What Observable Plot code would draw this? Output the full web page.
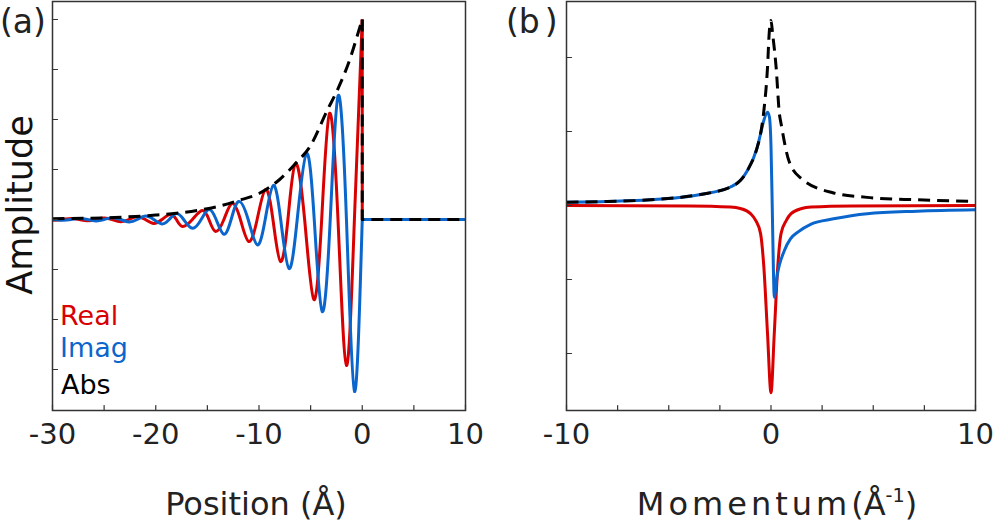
<!DOCTYPE html>
<html><head><meta charset="utf-8">
<script src="https://cdn.jsdelivr.net/npm/d3@7"></script>
<script src="https://cdn.jsdelivr.net/npm/@observablehq/plot@0.6"></script>
<style>
body{margin:0;background:#fff;font-family:"DejaVu Sans",sans-serif;color:#222}
#wrap{position:relative;width:993px;height:522px;overflow:hidden;background:#fff}
.lbl{position:absolute;white-space:nowrap;line-height:1;font-family:"DejaVu Sans",sans-serif}
svg{position:absolute;top:0;overflow:visible}
</style></head><body><div id="wrap"></div>
<script>
// ---------- Panel (a): position space ----------
const posTicks = [-30, -20, -10, 0, 10];
const posMinorTicks = [-30, -25, -20, -15, -10, -5, 0, 5, 10];
const ampTicksA = [1, 0.75, 0.5, 0.25, 0, -0.25, -0.5, -0.75];

const realPosX = [-30, -29.0, -28.2, -27.4, -26.6, -25.8, -25.0, -24.2, -23.4, -22.6, -21.8, -21.0, -20.2, -19.4, -18.6, -18.0, -17.4, -16.45, -15.5, -14.85, -14.2, -13.4, -12.6, -11.8, -10.99, -10.18, -9.37, -8.65, -7.92, -7.2, -6.47, -5.58, -4.69, -3.93, -3.17, -2.35, -1.53, -0.76, 0];
const realPosY = [-0.004, 0, 0.005, 0, -0.006, 0, 0.008, 0, -0.011, 0, 0.014, 0, -0.02, 0, 0.025, 0, -0.035, 0, 0.045, 0, -0.06, 0, 0.08, 0, -0.11, 0, 0.15, 0, -0.21, 0, 0.28, 0, -0.40, 0, 0.53, 0, -0.73, 0, 1.0];

const imagPosX = [-30, -29.0, -28.2, -27.4, -26.6, -25.8, -25.0, -24.2, -23.4, -22.6, -21.8, -21.0, -20.2, -19.4, -18.7, -18.0, -17.3, -16.44, -15.6, -14.86, -14.15, -13.4, -12.7, -11.96, -11.05, -10.17, -9.4, -8.62, -7.9, -7.1, -6.3, -5.4, -4.65, -3.88, -3.1, -2.33, -1.53, -0.75, 0];
const imagPosY = [0, -0.004, 0, 0.005, 0, -0.007, 0, 0.009, 0, -0.012, 0, 0.017, 0, -0.022, 0, 0.03, 0, -0.044, 0, 0.05, 0, -0.074, 0, 0.09, 0, -0.127, 0, 0.17, 0, -0.245, 0, 0.33, 0, -0.46, 0, 0.62, 0, -0.86, 0];

const absPosX = [-30, -27, -24, -22, -20, -18, -16, -14, -12, -10, -8, -6.46, -5, -3.4, -2.43, -1.14, -0.33, 0];
const absPosY = [0.004, 0.006, 0.01, 0.015, 0.022, 0.031, 0.045, 0.065, 0.095, 0.13, 0.2, 0.28, 0.37, 0.545, 0.645, 0.81, 0.945, 1.0];

// values at the edge x = 0 and beyond (step down to zero)
const realStepX = [0, 0, 10];
const realStepY = [1.0, 0, 0];
const imagStepX = [0, 10];
const imagStepY = [0, 0];
const absStepX = [0, 0, 10];
const absStepY = [1.0, 0, 0];

// ---------- Panel (b): momentum space ----------
const momTicks = [-10, 0, 10];
const momMinorTicks = [-10, -7.5, -5, -2.5, 0, 2.5, 5, 7.5, 10];
const ampTicksB = [2, 1, 0, -1, -2];

const realMomX = [-10, -4, -1.98, -1.5, -1.0, -0.75, -0.51, -0.35, -0.17, 0, 0.16, 0.33, 0.49, 0.75, 0.98, 1.5, 1.96, 4, 10];
const realMomY = [0, -0.005, -0.02, -0.04, -0.11, -0.2, -0.38, -0.83, -1.73, -2.53, -1.73, -0.83, -0.38, -0.2, -0.11, -0.04, -0.02, -0.005, 0];

const imagMomX = [-10, -8, -5.9, -3.45, -1.98, -1.49, -1.16, -0.67, -0.51, -0.35, -0.17, -0.08, 0, 0.06, 0.12, 0.16, 0.3, 0.65, 0.95, 1.31, 1.96, 3.06, 4.7, 7.15, 10];
const imagMomY = [0.045, 0.055, 0.077, 0.15, 0.25, 0.34, 0.47, 0.79, 0.97, 1.15, 1.26, 1.2, 0.8, 0, -0.9, -1.24, -0.95, -0.61, -0.45, -0.36, -0.25, -0.18, -0.11, -0.077, -0.058];

const absMomX = [-10, -8, -5.9, -3.45, -1.98, -1.49, -1.16, -0.67, -0.51, -0.35, -0.17, -0.09, 0, 0.08, 0.25, 0.41, 0.49, 0.88, 1.5, 3.06, 4.7, 7.15, 10];
const absMomY = [0.045, 0.055, 0.077, 0.15, 0.25, 0.34, 0.47, 0.79, 0.97, 1.28, 1.87, 2.32, 2.5, 2.32, 1.87, 1.24, 1.11, 0.6, 0.36, 0.17, 0.11, 0.077, 0.054];

// ---------- styles ----------
const RED = "#d80000", BLUE = "#0a66cc", BLACK = "#000";
const FRAME = "#333";
const rows = (xs, ys) => xs.map((x, i) => ({x, y: ys[i]}));
const tickShape = {draw(ctx, l) { ctx.moveTo(0, 0); ctx.lineTo(0, -l); }};
const lineOpts = (stroke, curve, dashed) => ({x: "x", y: "y", stroke, strokeWidth: 3, curve,
  strokeDasharray: dashed ? "12,7" : null, strokeLinecap: "butt"});

function panel({width, marginLeft, marginRight, xDomain, yDomain, series, minorX, yTicks, labelsX}) {
  const marks = [];
  for (const s of series) marks.push(Plot.line(rows(s.x, s.y), lineOpts(s.stroke, s.curve, s.dashed)));
  marks.push(Plot.frame({stroke: FRAME, strokeWidth: 1.5}));
  marks.push(Plot.vector(minorX, {x: d => d, frameAnchor: "bottom", anchor: "start", length: 5, shape: tickShape, stroke: FRAME, strokeWidth: 1.2}));
  marks.push(Plot.vector(yTicks, {y: d => d, frameAnchor: "left", anchor: "start", rotate: 90, length: 5, shape: tickShape, stroke: FRAME, strokeWidth: 1.2}));
  marks.push(Plot.text(labelsX, {x: d => d, frameAnchor: "bottom", dy: 33, text: d => String(d), fontSize: 29, fill: "#222"}));
  return Plot.plot({
    width, height: 522, marginLeft, marginRight, marginTop: 1, marginBottom: 112,
    x: {domain: xDomain, axis: null},
    y: {domain: yDomain, axis: null},
    style: {fontFamily: "DejaVu Sans", color: "#222", background: "transparent", overflow: "visible"},
    marks
  });
}

const wrap = document.getElementById("wrap");

const left = panel({
  width: 470, marginLeft: 52, marginRight: 5,
  xDomain: [-30, 10], yDomain: [-0.955, 1.09],
  minorX: posMinorTicks, yTicks: ampTicksA, labelsX: posTicks,
  series: [
    {x: realPosX, y: realPosY, stroke: RED, curve: "natural"},
    {x: realStepX, y: realStepY, stroke: RED, curve: "linear"},
    {x: imagPosX, y: imagPosY, stroke: BLUE, curve: "natural"},
    {x: imagStepX, y: imagStepY, stroke: BLUE, curve: "linear"},
    {x: absPosX, y: absPosY, stroke: BLACK, curve: "monotone-x", dashed: true},
    {x: absStepX, y: absStepY, stroke: BLACK, curve: "linear", dashed: true}
  ]
});
left.style.left = "0px";
wrap.appendChild(left);

const right = panel({
  width: 493, marginLeft: 66, marginRight: 18,
  xDomain: [-10, 10], yDomain: [-2.77, 2.757],
  minorX: momMinorTicks, yTicks: ampTicksB, labelsX: momTicks,
  series: [
    {x: realMomX, y: realMomY, stroke: RED, curve: "monotone-x"},
    {x: imagMomX, y: imagMomY, stroke: BLUE, curve: "monotone-x"},
    {x: absMomX, y: absMomY, stroke: BLACK, curve: "monotone-x", dashed: true}
  ]
});
right.style.left = "500px";
wrap.appendChild(right);

// ---------- text labels ----------
function label(html, css) {
  const d = document.createElement("div");
  d.className = "lbl";
  d.innerHTML = html;
  Object.assign(d.style, css);
  wrap.appendChild(d);
  return d;
}
label("(a)", {left: "0px", top: "5px", fontSize: "33px", color: "#222"});
label("(b<span style=\"margin-left:5px\">)</span>", {left: "506px", top: "5px", fontSize: "33px", color: "#222"});
label("Amplitude", {left: "20px", top: "205px", fontSize: "35px", color: "#111", transform: "translate(-50%,-50%) rotate(-90deg)"});
label("Real", {left: "60px", top: "302px", fontSize: "27px", color: RED});
label("Imag", {left: "60px", top: "334px", fontSize: "27px", color: BLUE});
label("Abs", {left: "61px", top: "371px", fontSize: "27px", color: "#000"});
label("Position (Å)", {left: "256px", top: "488px", fontSize: "32px", color: "#222", transform: "translateX(-50%)"});
label("<span style=\"letter-spacing:4px\">Momentum</span>(Å<sup style=\"font-size:60%;vertical-align:0.7em;line-height:0\">-1</sup>)", {left: "777px", top: "488px", fontSize: "32px", color: "#222", transform: "translateX(-50%)"});
</script></body></html>
